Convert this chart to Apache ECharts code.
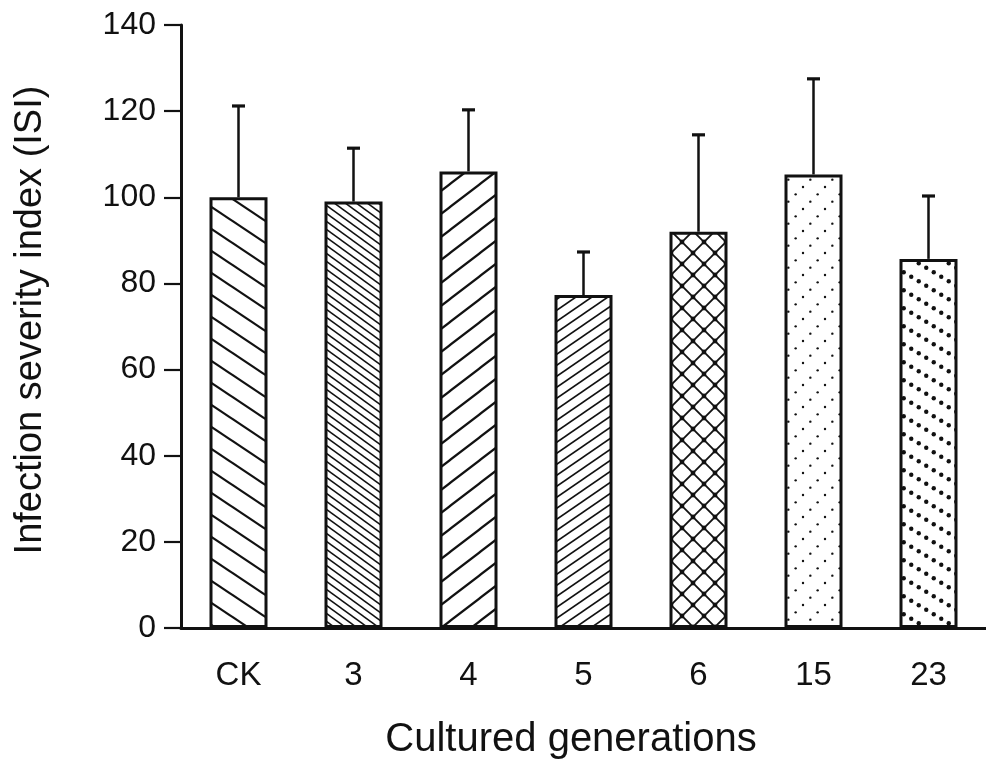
<!DOCTYPE html>
<html>
<head>
<meta charset="utf-8">
<script src="https://cdn.jsdelivr.net/npm/echarts@6/dist/echarts.min.js"></script>
<style>
html,body{margin:0;padding:0;background:#fff;}
#chart{width:986px;height:765px;}
</style>
</head>
<body>
<div id="chart"></div>
<script>
// ---- data ----
var categories = ['CK', '3', '4', '5', '6', '15', '23'];
var meanISI = [100, 99, 106, 77.3, 92, 105.3, 85.7];
var sdISI = [21.2, 12.4, 14.3, 10, 22.5, 22.2, 14.6];
var yTicks = [0, 20, 40, 60, 80, 100, 120, 140];
var xTitle = 'Cultured generations';
var yTitle = 'Infection severity index (ISI)';

// ---- hatch patterns ----
function tile(w, h, draw) {
  var c = document.createElement('canvas');
  c.width = w; c.height = h;
  var ctx = c.getContext('2d');
  ctx.fillStyle = '#fff';
  ctx.fillRect(0, 0, w, h);
  ctx.strokeStyle = '#111';
  ctx.fillStyle = '#111';
  draw(ctx, w, h);
  return c;
}
function lines(dir, lw) {
  return function (ctx, w, h) {
    ctx.lineWidth = lw;
    for (var k = -1; k <= 1; k++) {
      ctx.beginPath();
      if (dir === 'back') {
        ctx.moveTo(-w, -h + k * h); ctx.lineTo(2 * w, 2 * h + k * h);
      } else {
        ctx.moveTo(-w, 2 * h + k * h); ctx.lineTo(2 * w, -h + k * h);
      }
      ctx.stroke();
    }
  };
}
function dots(dir, n, r) {
  return function (ctx, w, h) {
    for (var k = 0; k < n; k++) {
      var t = (k + 0.5) / n;
      var x = w * t;
      var y = dir === 'back' ? h * t : h * (1 - t);
      ctx.beginPath(); ctx.arc(x, y, r, 0, Math.PI * 2); ctx.fill();
    }
  };
}
function cross(ctx, w, h) {
  lines('back', 1.9)(ctx, w, h);
  lines('fwd', 1.9)(ctx, w, h);
  var pts = [[0, 0], [w, 0], [0, h], [w, h], [w / 2, h / 2]];
  pts.forEach(function (p) { ctx.beginPath(); ctx.arc(p[0], p[1], 2.4, 0, Math.PI * 2); ctx.fill(); });
}
var patterns = [
  tile(33, 22, lines('back', 2.2)),
  tile(11, 8, lines('back', 1.5)),
  tile(30, 23, lines('fwd', 2.2)),
  tile(16, 11, lines('fwd', 1.7)),
  tile(22, 22, cross),
  tile(22, 22, dots('fwd', 3, 1.2)),
  tile(30, 18, dots('back', 4, 2.2))
];

var barData = meanISI.map(function (v, i) {
  return { value: v, itemStyle: { color: { image: patterns[i], repeat: 'repeat' } } };
});
var errData = meanISI.map(function (v, i) { return [i, v, v + sdISI[i]]; });

var font = 'Liberation Sans, Arial, Helvetica, sans-serif';
var chart = echarts.init(document.getElementById('chart'), null, { renderer: 'canvas' });
chart.setOption({
  backgroundColor: '#fff',
  animation: false,
  grid: { left: 181, top: 25, width: 808, bottom: 137, containLabel: false },
  xAxis: {
    type: 'category',
    data: categories,
    boundaryGap: true,
    axisLine: { lineStyle: { color: '#111', width: 3 } },
    axisTick: { show: false },
    axisLabel: { color: '#111', fontSize: 33, fontFamily: font, margin: 31 },
    splitLine: { show: false }
  },
  yAxis: {
    type: 'value',
    min: yTicks[0],
    max: yTicks[yTicks.length - 1],
    interval: 20,
    axisLine: { show: true, lineStyle: { color: '#111', width: 3 } },
    axisTick: { show: true, inside: false, length: 17, lineStyle: { color: '#111', width: 2.2 } },
    axisLabel: { color: '#111', fontSize: 32, fontFamily: font, margin: 25 },
    splitLine: { show: false }
  },
  graphic: [
    { type: 'text', x: 571, y: 740, style: { text: xTitle, font: '40px ' + font, fill: '#111', textAlign: 'center', textVerticalAlign: 'middle' } },
    { type: 'text', x: 31, y: 320, rotation: Math.PI / 2, style: { text: yTitle, font: '38px ' + font, fill: '#111', textAlign: 'center', textVerticalAlign: 'middle' } }
  ],
  series: [
    {
      type: 'bar',
      data: barData,
      barWidth: 58,
      itemStyle: { borderColor: '#111', borderWidth: 3 },
      z: 2
    },
    {
      type: 'custom',
      data: errData,
      z: 3,
      renderItem: function (params, api) {
        var i = api.value(0);
        var p0 = api.coord([i, api.value(1)]);
        var p1 = api.coord([i, api.value(2)]);
        return {
          type: 'group',
          children: [
            { type: 'line', shape: { x1: p0[0], y1: p0[1], x2: p1[0], y2: p1[1] }, style: { stroke: '#111', lineWidth: 2.5 } },
            { type: 'line', shape: { x1: p1[0] - 6.5, y1: p1[1], x2: p1[0] + 6.5, y2: p1[1] }, style: { stroke: '#111', lineWidth: 3.2 } }
          ]
        };
      }
    }
  ]
});
</script>
</body>
</html>
